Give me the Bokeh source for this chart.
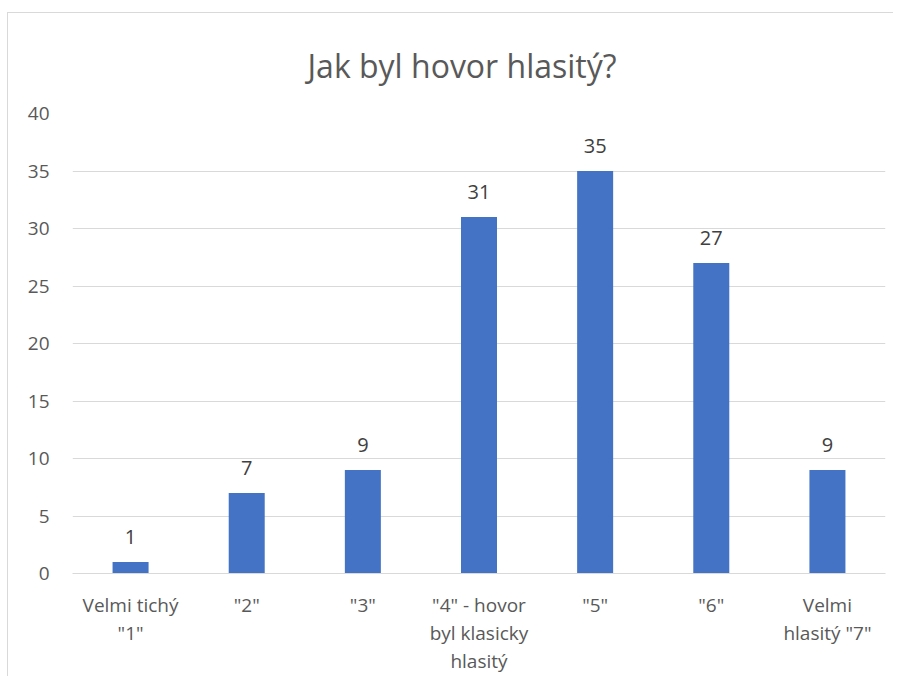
from bokeh.plotting import figure
from bokeh.models import ColumnDataSource, Range1d, FactorRange, LabelSet
from bokeh.core.properties import value
from bokeh.embed import file_html
from bokeh.resources import INLINE

title_text = "Jak byl hovor hlasitý?"
categories = ["Velmi tichý\n\"1\"", "\"2\"", "\"3\"", "\"4\" - hovor\nbyl klasicky\nhlasitý",
              "\"5\"", "\"6\"", "Velmi\nhlasitý \"7\""]
values = [1, 7, 9, 31, 35, 27, 9]
y_ticks = [0, 5, 10, 15, 20, 25, 30, 35, 40]

FONT = "Open Sans"
GREY = "#595959"

src = ColumnDataSource(dict(cat=categories, val=values, lbl=[str(v) for v in values]))

p = figure(width=886, height=664, output_backend="svg", toolbar_location=None,
           x_range=FactorRange(*categories, range_padding=0), y_range=Range1d(0, 40),
           min_border_left=64, min_border_right=9, min_border_top=100, min_border_bottom=104)
p.margin = (13, 0, 0, 8)
p.styles = {"box-shadow": "-1px -1px 0 0 #d9d9d9"}
p.outline_line_color = None
p.background_fill_color = "white"
p.border_fill_color = "white"

p.title.text = title_text
p.title.align = "left"
p.title.offset = 235
p.title.standoff = 54
p.title.text_font = FONT
p.title.text_font_size = "32px"
p.title.text_font_style = "normal"
p.title.text_color = GREY

p.vbar(x="cat", top="val", width=0.31, source=src, fill_color="#4472c4", line_color=None)

labels = LabelSet(x="cat", y="val", text="lbl", source=src, text_align="center",
                  text_baseline="bottom", y_offset=18, text_font_size="20px",
                  text_color="#404040", text_font=value(FONT))
p.add_layout(labels)

p.xgrid.grid_line_color = None
p.ygrid.grid_line_color = "#d9d9d9"
p.ygrid.grid_line_width = 1
p.yaxis.ticker = y_ticks
p.yaxis.axis_line_color = None
p.yaxis.major_tick_line_color = None
p.yaxis.major_tick_out = 0
p.yaxis.major_tick_in = 0
p.yaxis.minor_tick_line_color = None
p.yaxis.major_label_standoff = 23
p.yaxis.major_label_text_font = FONT
p.yaxis.major_label_text_font_size = "19px"
p.yaxis.major_label_text_color = GREY

p.xaxis.axis_line_color = "#d9d9d9"
p.xaxis.axis_line_width = 1
p.xaxis.major_tick_line_color = None
p.xaxis.major_tick_out = 0
p.xaxis.major_tick_in = 0
p.xaxis.minor_tick_line_color = None
p.xaxis.major_label_standoff = 18
p.xaxis.major_label_text_font = FONT
p.xaxis.major_label_text_font_size = "19px"
p.xaxis.major_label_text_color = GREY
p.xaxis.major_label_text_line_height = 1.08

open("out.html", "w").write(file_html(p, INLINE))
